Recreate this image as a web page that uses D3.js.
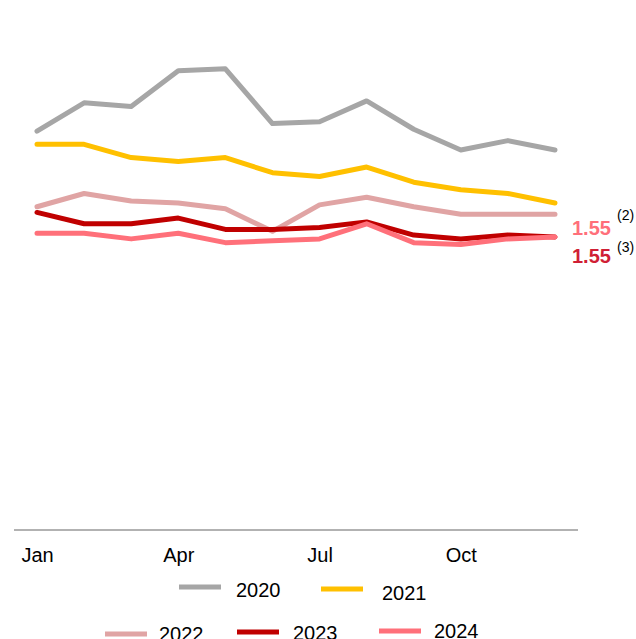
<!DOCTYPE html>
<html>
<head>
<meta charset="utf-8">
<script src="https://cdn.jsdelivr.net/npm/d3@7"></script>
<style>
  body { margin: 0; background: #fff; }
  text { font-family: "Liberation Sans", Arial, sans-serif; }
</style>
</head>
<body>
<svg id="chart"></svg>
<script>
var months = ["Jan","Feb","Mar","Apr","May","Jun","Jul","Aug","Sep","Oct","Nov","Dec"];
var tickMonths = ["Jan","Apr","Jul","Oct"];

var y2020 = [2.11, 2.26, 2.24, 2.43, 2.44, 2.15, 2.16, 2.27, 2.12, 2.01, 2.06, 2.01];
var y2021 = [2.04, 2.04, 1.97, 1.95, 1.97, 1.89, 1.87, 1.92, 1.84, 1.80, 1.78, 1.73];
var y2022 = [1.71, 1.78, 1.74, 1.73, 1.70, 1.58, 1.72, 1.76, 1.71, 1.67, 1.67, 1.67];
var y2023 = [1.68, 1.62, 1.62, 1.65, 1.59, 1.59, 1.60, 1.63, 1.56, 1.54, 1.56, 1.55];
var y2024 = [1.57, 1.57, 1.54, 1.57, 1.52, 1.53, 1.54, 1.62, 1.52, 1.51, 1.54, 1.55];

var seriesNames = ["2020","2021","2022","2023","2024"];
var seriesColors = ["#a6a6a6","#ffc000","#e0a4a4","#c00000","#ff707a"];

var width = 636, height = 639;

var svg = d3.select("#chart")
            .attr("width", width)
            .attr("height", height);

var xScale = d3.scalePoint()
               .domain(months)
               .range([37, 555]);

// baseline 0 sits on the axis line
var yScale = d3.scaleLinear()
               .domain([0, 1.55])
               .range([530, 237]);

var series = [y2020, y2021, y2022, y2023, y2024].map(function(vals, i){
  return {name: seriesNames[i], color: seriesColors[i], values: vals};
});

var line = d3.line()
             .x(function(d,i){return xScale(months[i])})
             .y(function(d){return yScale(d)});

svg.append("g")
   .selectAll("path")
   .data(series)
   .enter()
   .append("path")
   .attr("d", function(d){return line(d.values)})
   .attr("fill", "none")
   .attr("stroke", function(d){return d.color})
   .attr("stroke-width", 5)
   .attr("stroke-linejoin", "round")
   .attr("stroke-linecap", "round");

// x axis
var xAxis = d3.axisBottom(xScale)
              .tickValues(tickMonths)
              .tickSize(0)
              .tickPadding(18);

var axisG = svg.append("g")
               .attr("transform", "translate(0," + yScale(0) + ")")
               .call(xAxis);
axisG.select(".domain").remove();
axisG.append("line")
     .attr("x1", 14).attr("x2", 578)
     .attr("stroke", "#999")
     .attr("stroke-width", 1.5);
axisG.selectAll(".tick text")
     .attr("font-size", 20)
     .attr("fill", "#000")
     .style("font-family", "'Liberation Sans', Arial, sans-serif");

// end labels
var last = months.length - 1;
var endLabels = [
  {value: y2024[last], color: "#ff6f7a", note: "(2)", by: 235, ny: 220},
  {value: y2023[last], color: "#d01f35", note: "(3)", by: 263, ny: 252}
];
endLabels.forEach(function(l){
  svg.append("text")
     .attr("x", 572).attr("y", l.by)
     .attr("font-size", 20)
     .attr("font-weight", "bold")
     .attr("fill", l.color)
     .text(d3.format(".2f")(l.value));
  svg.append("text")
     .attr("x", 617).attr("y", l.ny)
     .attr("font-size", 14)
     .attr("fill", "#000")
     .text(l.note);
});

// legend
var legendPos = [
  {x: 179, y: 587, tx: 236, ty: 597},
  {x: 321, y: 589, tx: 382, ty: 600},
  {x: 105, y: 634, tx: 159, ty: 641},
  {x: 237, y: 632, tx: 293, ty: 640},
  {x: 379, y: 631, tx: 434, ty: 638}
];
var legend = svg.append("g")
                .selectAll("g")
                .data(series)
                .enter()
                .append("g");
legend.append("line")
      .attr("x1", function(d,i){return legendPos[i].x})
      .attr("x2", function(d,i){return legendPos[i].x + 42})
      .attr("y1", function(d,i){return legendPos[i].y})
      .attr("y2", function(d,i){return legendPos[i].y})
      .attr("stroke", function(d){return d.color})
      .attr("stroke-width", 5);
legend.append("text")
      .attr("x", function(d,i){return legendPos[i].tx})
      .attr("y", function(d,i){return legendPos[i].ty})
      .attr("font-size", 20)
      .attr("fill", "#000")
      .text(function(d){return d.name});
</script>
</body>
</html>
